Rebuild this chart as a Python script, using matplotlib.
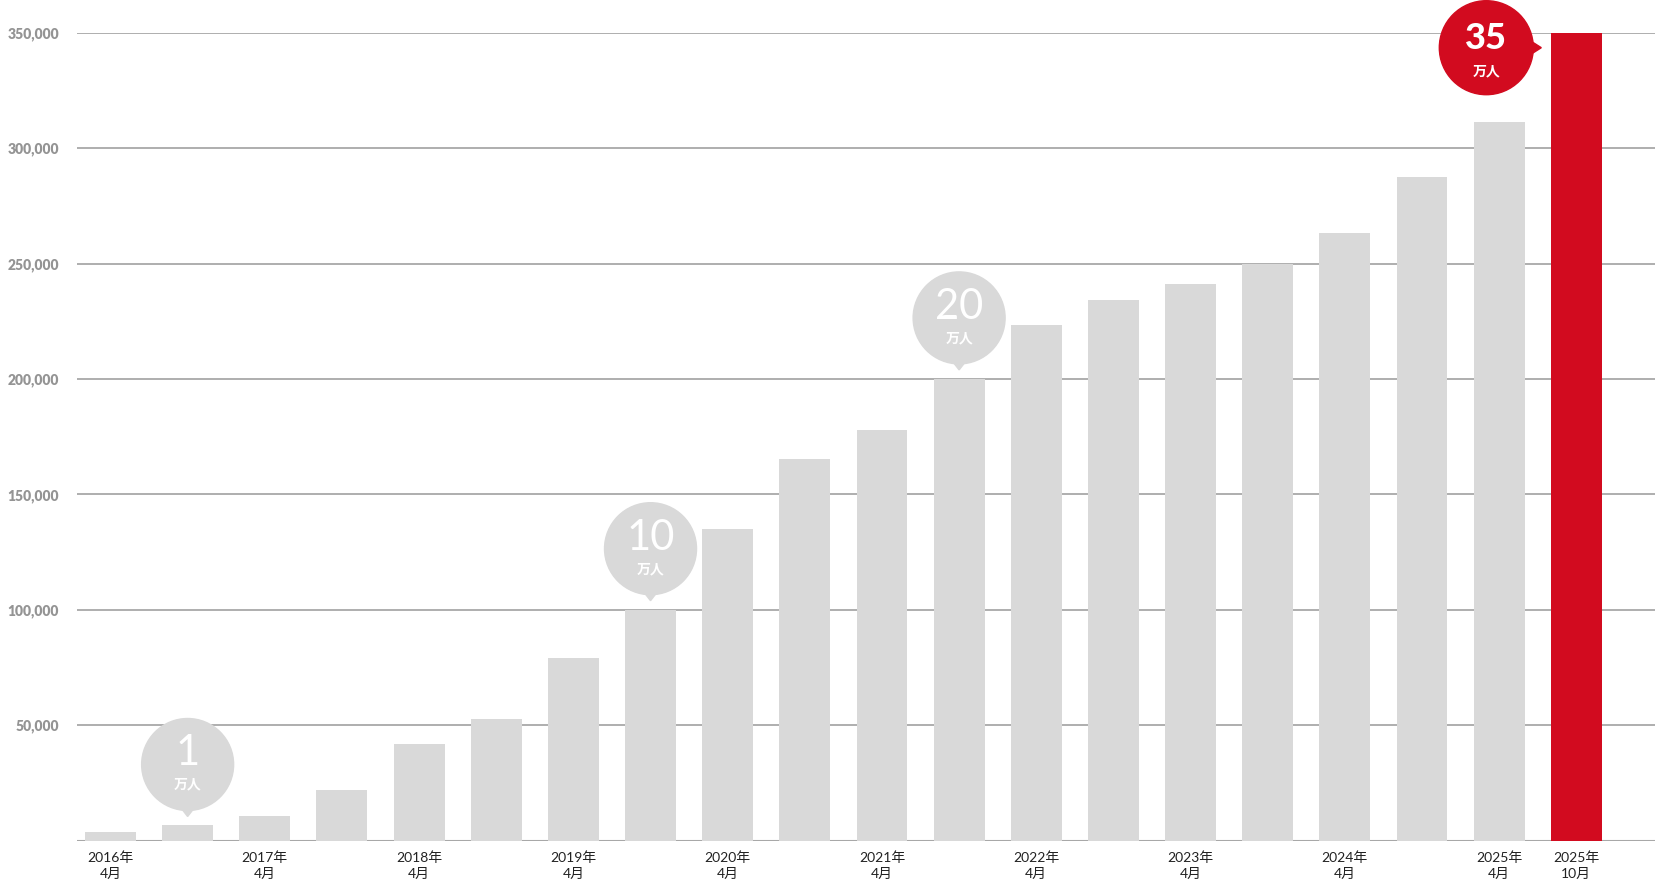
import matplotlib
matplotlib.use('Agg')
import matplotlib.pyplot as plt
import matplotlib.transforms as mtransforms
from matplotlib.patches import Circle, Polygon

plt.rcParams['font.family'] = ['Lato', 'Noto Sans CJK JP', 'DejaVu Sans']

# 会員数の推移（半年ごと）
periods = ['2016年\n4月', '2016年\n10月', '2017年\n4月', '2017年\n10月',
           '2018年\n4月', '2018年\n10月', '2019年\n4月', '2019年\n10月',
           '2020年\n4月', '2020年\n10月', '2021年\n4月', '2021年\n10月',
           '2022年\n4月', '2022年\n10月', '2023年\n4月', '2023年\n10月',
           '2024年\n4月', '2024年\n10月', '2025年\n4月', '2025年\n10月']
members = [3500, 6500, 10500, 22000, 42000, 52500, 79000, 100000,
           135000, 165500, 178000, 200000, 223500, 234000, 241000, 250000,
           263000, 287500, 311500, 350000]
label_idx = [0, 2, 4, 6, 8, 10, 12, 14, 16, 18, 19]
y_ticks = [50000, 100000, 150000, 200000, 250000, 300000, 350000]

milestone_idx = [1, 7, 11]
milestone_text = ['1', '10', '20']
highlight_idx = 19
highlight_text = '35'
unit_text = '万人'

GRAY = '#d9d9d9'
RED = '#d20b1f'
GRID = '#a8a8a8'

fig = plt.figure(figsize=(16.55, 8.91), dpi=100)
ax = fig.add_axes([77 / 1655, 50.5 / 891, 1 - 77 / 1655, 807.8 / 891])

x = list(range(len(members)))
colors = [RED if i == highlight_idx else GRAY for i in x]
ax.bar(x, members, width=0.66, color=colors, zorder=2)

ax.set_xlim(-0.434, 20.02)
ax.set_ylim(0, 350000)
ax.set_yticks(y_ticks)
ax.set_yticklabels([f'{v:,}' for v in y_ticks], color='#949494',
                   fontsize=10, fontweight='heavy')
ax.yaxis.grid(True, color=GRID, linewidth=1.3, zorder=0)
ax.axhline(0, color=GRID, linewidth=1.5, zorder=1)
ax.set_axisbelow(True)
ax.tick_params(axis='y', length=0, pad=13)

ax.set_xticks(label_idx)
ax.set_xticklabels([periods[i] for i in label_idx], fontsize=10,
                   color='#222222', linespacing=1.35)
ax.tick_params(axis='x', length=0, pad=8)

for s in ax.spines.values():
    s.set_visible(False)


def bubble_tr(i):
    # 棒の上端を原点としたピクセル単位（dpi=100なので /100 でインチ）
    return fig.dpi_scale_trans + mtransforms.ScaledTranslation(
        i, members[i], ax.transData)


def px(v):
    return v / 100


# グレーの吹き出し
for i, txt in zip(milestone_idx, milestone_text):
    tr = bubble_tr(i)
    cy, r = 61, 46
    ax.add_patch(Circle((0, px(cy)), px(r), color=GRAY, transform=tr,
                        clip_on=False, zorder=3))
    ax.add_patch(Polygon([(px(-7), px(cy - r + 3)), (px(7), px(cy - r + 3)),
                          (0, px(9))], color=GRAY, transform=tr,
                         clip_on=False, zorder=3))
    ax.text(0, px(cy + 11), txt, transform=tr, ha='center', va='center',
            color='white', fontsize=30, fontweight='normal', zorder=4)
    ax.text(0, px(cy - 20), unit_text, transform=tr, ha='center',
            va='center', color='white', fontsize=10, fontweight='bold',
            zorder=4)

# 赤の吹き出し（最新）
tr = bubble_tr(highlight_idx)
cx, cy, r = -90, -15, 47
ax.add_patch(Circle((px(cx), px(cy)), px(r), color=RED, transform=tr,
                    clip_on=False, zorder=3))
ax.add_patch(Polygon([(px(cx + r - 3), px(cy + 7)), (px(cx + r - 3), px(cy - 7)),
                      (px(cx + 55), px(cy))], color=RED, transform=tr,
                     clip_on=False, zorder=3))
ax.text(px(cx), px(cy + 9), highlight_text, transform=tr, ha='center',
        va='center', color='white', fontsize=26, fontweight='black', zorder=4)
ax.text(px(cx), px(cy - 23), unit_text, transform=tr, ha='center',
        va='center', color='white', fontsize=10, fontweight='bold', zorder=4)

fig.savefig('out.png', dpi=100)
